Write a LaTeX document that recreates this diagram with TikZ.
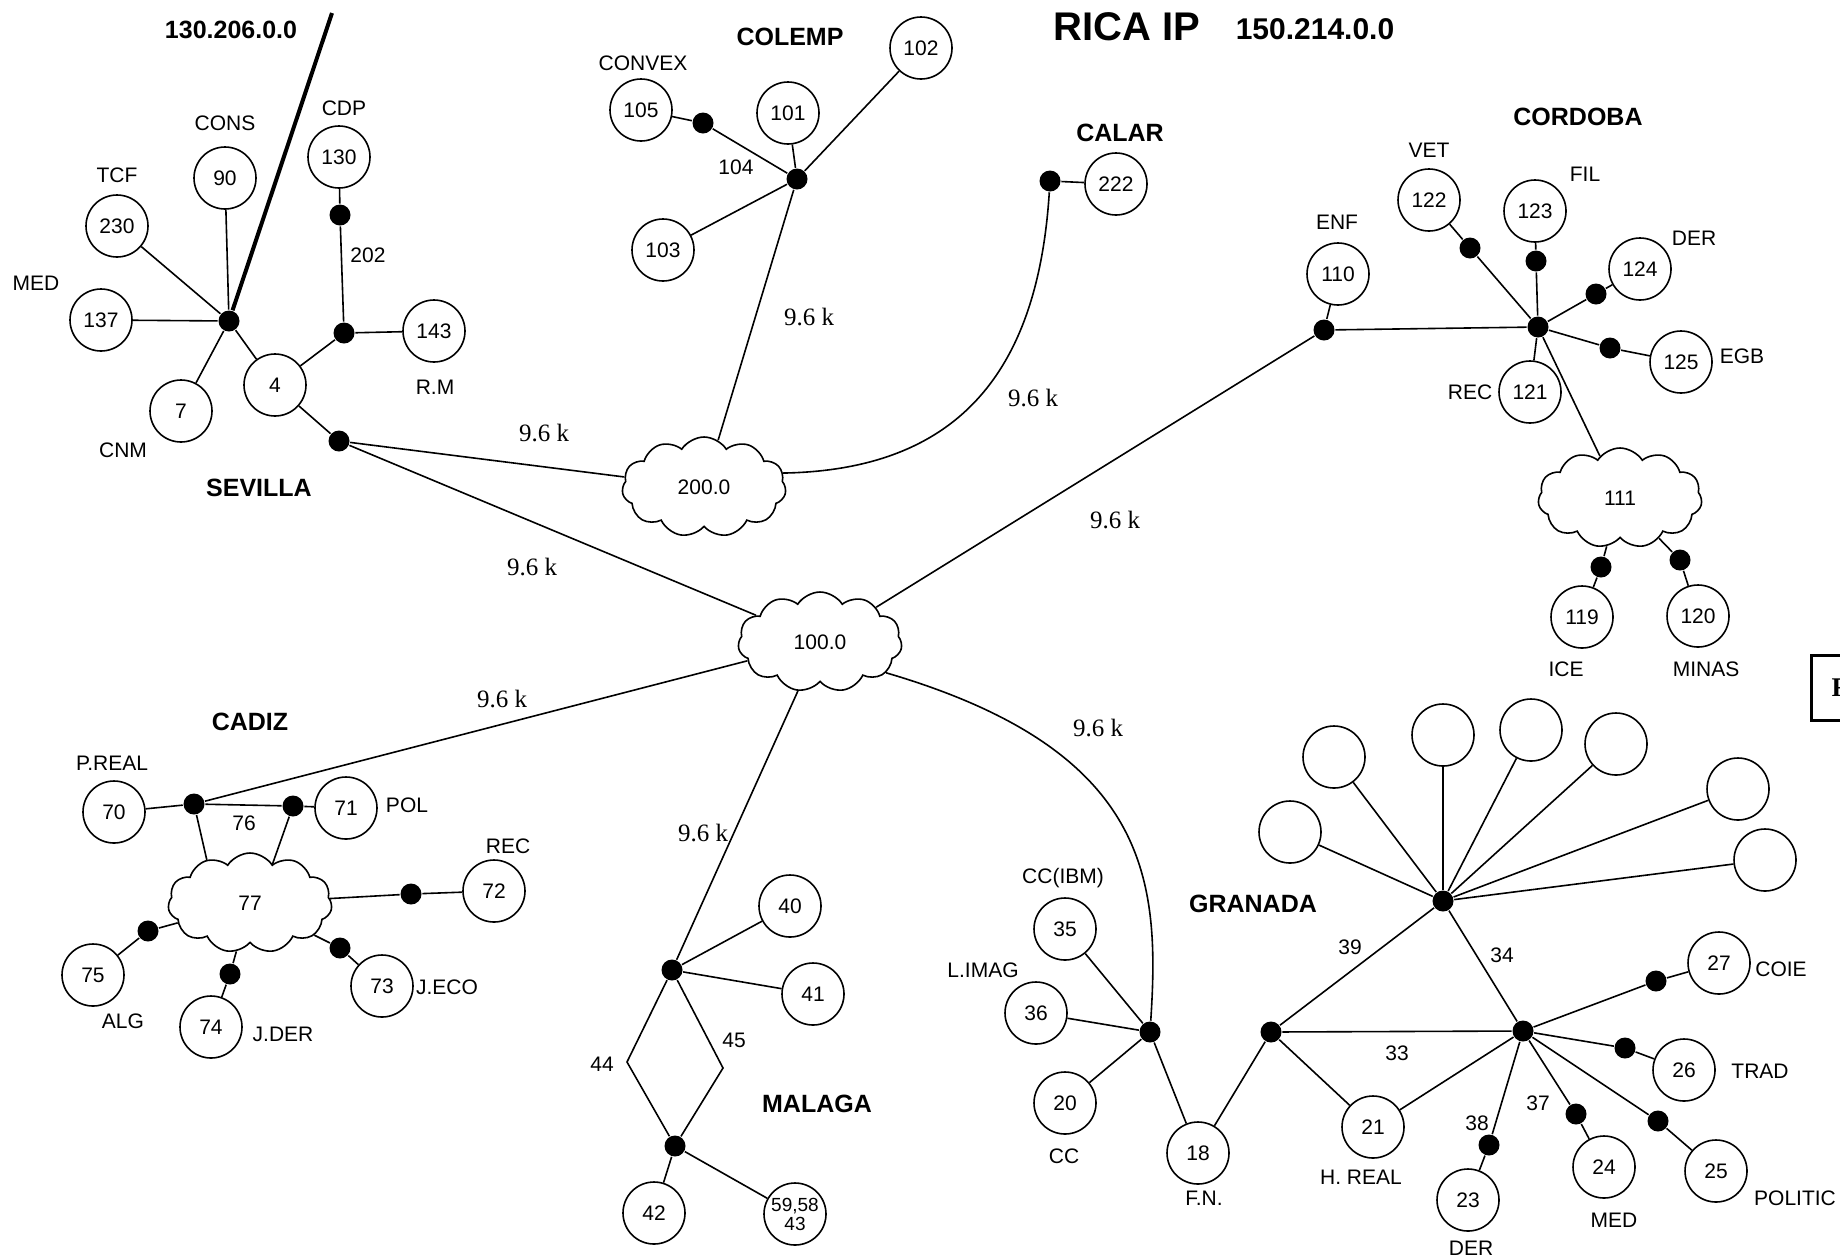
\documentclass[tikz,border=0pt]{standalone}
\usepackage{fontspec}
\setmainfont{Liberation Sans}
\newfontfamily\timesfont{Liberation Serif}
\usetikzlibrary{shapes.symbols}

\begin{document}
\begin{tikzpicture}[x=0.5pt,y=-0.5pt,line width=0.8pt,
  host/.style={draw,circle,minimum size=31pt,inner sep=0pt,font=\fontsize{10.5}{10}\selectfont},
  hub/.style={circle,fill=black,minimum size=10.5pt,inner sep=0pt},
  net/.style={draw,cloud,cloud puffs=11,cloud puff arc=115,cloud ignores aspect,
    minimum width=82pt,minimum height=50pt,inner sep=0pt,font=\fontsize{10.5}{12}\selectfont},
  lbl/.style={font=\fontsize{10.5}{12}\selectfont,inner sep=1pt},
  city/.style={font=\bfseries\fontsize{12.5}{14}\selectfont},
  speed/.style={font=\timesfont\fontsize{12.5}{14}\selectfont}]
  \useasboundingbox (0,0) rectangle (1840,1259);

  % titles
  \node[font=\bfseries\fontsize{20}{22}\selectfont] (ricaip) at (1127,27) {RICA IP};
  \node[font=\bfseries\fontsize{15}{17}\selectfont] (ricanet) at (1315,29) {150.214.0.0};
  \node[font=\bfseries\fontsize{12.5}{14}\selectfont] (extnet) at (231,30) {130.206.0.0};

  % backbone clouds
  \node[net] (c200) at (704,487) {200.0};
  \node[net] (c100) at (820,642) {100.0};
  \node[net] (c111) at (1620,498) {111};
  \node[net] (c77) at (250,903) {77};

  % SEVILLA
  \node[hub] (sev) at (229,321) {};
  \coordinate (uplink) at (332,13);
  \node[host] (h90) at (225,178) {90};
  \node[host] (h230) at (117,226) {230};
  \node[host] (h137) at (101,320) {137};
  \node[host] (h7) at (181,411) {7};
  \node[host] (h4) at (275,385) {4};
  \node[host] (h130) at (339,157) {130};
  \node[hub] (sevb) at (340,215) {};
  \node[hub] (seva) at (344,333) {};
  \node[host] (h143) at (434,331) {143};
  \node[hub] (sevgw) at (339,441) {};
  \node[lbl] (lcons) at (225,123) {CONS};
  \node[lbl] (ltcf) at (117,175) {TCF};
  \node[lbl] (lmed) at (36,283) {MED};
  \node[lbl] (lcnm) at (123,450) {CNM};
  \node[lbl] (lcdp) at (344,108) {CDP};
  \node[lbl] (l202) at (368,255) {202};
  \node[lbl] (lrm) at (435,387) {R.M};
  \node[city] (lsev) at (259,488) {SEVILLA};
  \draw[line width=2pt] (sev) -- (uplink);
  \foreach \h in {h90,h230,h137,h7,h4} \draw (sev) -- (\h);
  \draw (h4) -- (seva) -- (h143);
  \draw (seva) -- (sevb) -- (h130);
  \draw (h4) -- (sevgw);
  \draw (sevgw) -- (c200);
  \draw (sevgw) -- (c100);

  % COLEMP
  \node[hub] (col) at (797,179) {};
  \node[host] (h105) at (641,110) {105};
  \node[hub] (col104) at (703,123) {};
  \node[host] (h101) at (788,113) {101};
  \node[host] (h102) at (921,48) {102};
  \node[host] (h103) at (663,250) {103};
  \node[city] (lcol) at (790,37) {COLEMP};
  \node[lbl] (lconvex) at (643,63) {CONVEX};
  \node[lbl] (l104) at (736,167) {104};
  \draw (h105) -- (col104) -- (col);
  \foreach \h in {h101,h102,h103} \draw (col) -- (\h);
  \draw (col) -- (c200);

  % CALAR
  \node[hub] (cal) at (1050,181) {};
  \node[host] (h222) at (1116,184) {222};
  \node[city] (lcal) at (1120,133) {CALAR};
  \draw (cal) -- (h222);
  \draw (c200.10) .. controls (960,470) and (1038,370) .. (cal);

  % CORDOBA
  \node[hub] (enf) at (1324,330) {};
  \node[host] (h110) at (1338,274) {110};
  \node[hub] (cor) at (1538,327) {};
  \node[host] (h122) at (1429,200) {122};
  \node[hub] (cor122) at (1470,248) {};
  \node[host] (h123) at (1535,211) {123};
  \node[hub] (cor123) at (1536,261) {};
  \node[host] (h124) at (1640,269) {124};
  \node[hub] (cor124) at (1596,294) {};
  \node[host] (h125) at (1681,362) {125};
  \node[hub] (cor125) at (1610,348) {};
  \node[host] (h121) at (1530,392) {121};
  \node[hub] (cor119) at (1601,567) {};
  \node[host] (h119) at (1582,617) {119};
  \node[hub] (cor120) at (1680,560) {};
  \node[host] (h120) at (1698,616) {120};
  \node[city] (lcor) at (1578,117) {CORDOBA};
  \node[lbl] (lenf) at (1337,222) {ENF};
  \node[lbl] (lvet) at (1429,150) {VET};
  \node[lbl] (lfil) at (1585,174) {FIL};
  \node[lbl] (lder) at (1694,238) {DER};
  \node[lbl] (legb) at (1742,356) {EGB};
  \node[lbl] (lrec) at (1470,392) {REC};
  \node[lbl] (lice) at (1566,669) {ICE};
  \node[lbl] (lminas) at (1706,669) {MINAS};
  \draw (c100) -- (enf) -- (cor);
  \draw (enf) -- (h110);
  \foreach \n in {122,123,124,125} \draw (cor) -- (cor\n) -- (h\n);
  \draw (cor) -- (h121);
  \draw (cor) -- (c111);
  \foreach \n in {119,120} \draw (c111) -- (cor\n) -- (h\n);

  % CADIZ
  \node[hub] (cad) at (194,804) {};
  \node[hub] (cad71) at (293,806) {};
  \node[host] (h70) at (114,812) {70};
  \node[host] (h71) at (346,808) {71};
  \node[hub] (cad72) at (411,894) {};
  \node[host] (h72) at (494,891) {72};
  \node[hub] (cad75) at (148,931) {};
  \node[host] (h75) at (93,975) {75};
  \node[hub] (cad74) at (230,974) {};
  \node[host] (h74) at (211,1027) {74};
  \node[hub] (cad73) at (340,948) {};
  \node[host] (h73) at (382,986) {73};
  \node[city] (lcad) at (250,722) {CADIZ};
  \node[lbl] (lpreal) at (112,763) {P.REAL};
  \node[lbl] (lpol) at (407,805) {POL};
  \node[lbl] (l76) at (244,823) {76};
  \node[lbl] (lrecc) at (508,846) {REC};
  \node[lbl] (lalg) at (123,1021) {ALG};
  \node[lbl] (ljder) at (283,1034) {J.DER};
  \node[lbl] (ljeco) at (447,987) {J.ECO};
  \draw (c100) -- (cad);
  \draw (h70) -- (cad) -- (cad71) -- (h71);
  \draw (cad) -- (c77.135);
  \draw (cad71) -- (c77.60);
  \foreach \n in {72,73,74,75} \draw (c77) -- (cad\n) -- (h\n);

  % MALAGA
  \node[hub] (mal) at (672,970) {};
  \node[hub] (malb) at (675,1146) {};
  \coordinate (m44) at (627,1062);
  \coordinate (m45) at (723,1068);
  \node[host] (h40) at (790,906) {40};
  \node[host] (h41) at (813,994) {41};
  \node[host] (h42) at (654,1213) {42};
  \node[host,align=center,font=\fontsize{9.5}{9.5}\selectfont] (h5958) at (795,1214) {59,58\\43};
  \node[lbl] (l44) at (602,1064) {44};
  \node[lbl] (l45) at (734,1040) {45};
  \node[city] (lmal) at (817,1104) {MALAGA};
  \draw (c100) -- (mal);
  \draw (mal) -- (h40);
  \draw (mal) -- (h41);
  \draw (mal) -- (m44) -- (malb) -- (m45) -- (mal);
  \draw (malb) -- (h42);
  \draw (malb) -- (h5958);

  % GRANADA
  \node[hub] (gra) at (1150,1032) {};
  \node[host] (h35) at (1065,929) {35};
  \node[host] (h36) at (1036,1013) {36};
  \node[host] (h20) at (1065,1103) {20};
  \node[host] (h18) at (1198,1153) {18};
  \node[hub] (grb) at (1271,1032) {};
  \node[hub] (grtop) at (1443,901) {};
  \node[hub] (grc) at (1523,1031) {};
  \node[host] (h21) at (1373,1127) {21};
  \node[host] (e1) at (1290,832) {};
  \node[host] (e2) at (1334,757) {};
  \node[host] (e3) at (1443,735) {};
  \node[host] (e4) at (1531,730) {};
  \node[host] (e5) at (1616,744) {};
  \node[host] (e6) at (1738,789) {};
  \node[host] (e7) at (1765,860) {};
  \node[hub] (gr27) at (1656,981) {};
  \node[host] (h27) at (1719,963) {27};
  \node[hub] (gr26) at (1625,1048) {};
  \node[host] (h26) at (1684,1070) {26};
  \node[hub] (gr25) at (1658,1121) {};
  \node[host] (h25) at (1716,1171) {25};
  \node[hub] (gr24) at (1576,1114) {};
  \node[host] (h24) at (1604,1167) {24};
  \node[hub] (gr23) at (1489,1145) {};
  \node[host] (h23) at (1468,1200) {23};
  \node[city] (lgra) at (1253,904) {GRANADA};
  \node[lbl] (lccibm) at (1063,878) {CC(IBM)};
  \node[lbl] (llimag) at (983,970) {L.IMAG};
  \node[lbl] (lcc) at (1064,1156) {CC};
  \node[lbl] (lfn) at (1204,1198) {F.N.};
  \node[lbl] (l39) at (1350,947) {39};
  \node[lbl] (l34) at (1502,955) {34};
  \node[lbl] (l33) at (1397,1053) {33};
  \node[lbl] (lhreal) at (1361,1177) {H. REAL};
  \node[lbl] (l38) at (1477,1123) {38};
  \node[lbl] (l37) at (1538,1103) {37};
  \node[lbl] (lderg) at (1471,1248) {DER};
  \node[lbl] (lmedg) at (1614,1220) {MED};
  \node[lbl] (lpolitic) at (1795,1198) {POLITIC};
  \node[lbl] (ltrad) at (1760,1071) {TRAD};
  \node[lbl] (lcoie) at (1781,969) {COIE};
  \draw (c100.-25) .. controls (1150,750) and (1160,880) .. (gra);
  \foreach \h in {h35,h36,h20,h18} \draw (gra) -- (\h);
  \draw (h18) -- (grb);
  \draw (grb) -- (grtop) -- (grc) -- (grb);
  \draw (grb) -- (h21) -- (grc);
  \foreach \e in {e1,e2,e3,e4,e5,e6,e7} \draw (grtop) -- (\e);
  \foreach \n in {23,24,25,26,27} \draw (grc) -- (gr\n) -- (h\n);

  % line speeds
  \node[speed] (s1) at (544,433) {9.6 k};
  \node[speed] (s2) at (809,317) {9.6 k};
  \node[speed] (s3) at (1033,398) {9.6 k};
  \node[speed] (s4) at (1115,520) {9.6 k};
  \node[speed] (s5) at (532,567) {9.6 k};
  \node[speed] (s6) at (502,699) {9.6 k};
  \node[speed] (s7) at (703,833) {9.6 k};
  \node[speed] (s8) at (1098,728) {9.6 k};

  % cut-off tag at the right edge
  \begin{scope}
    \clip (0,0) rectangle (1840,1259);
    \node[draw,line width=1.5pt,anchor=west,minimum height=32.5pt,inner xsep=10pt,
      font=\timesfont\bfseries\fontsize{13.5}{14}\selectfont] (figtag) at (1810,688) {F};
  \end{scope}
\end{tikzpicture}
\end{document}
